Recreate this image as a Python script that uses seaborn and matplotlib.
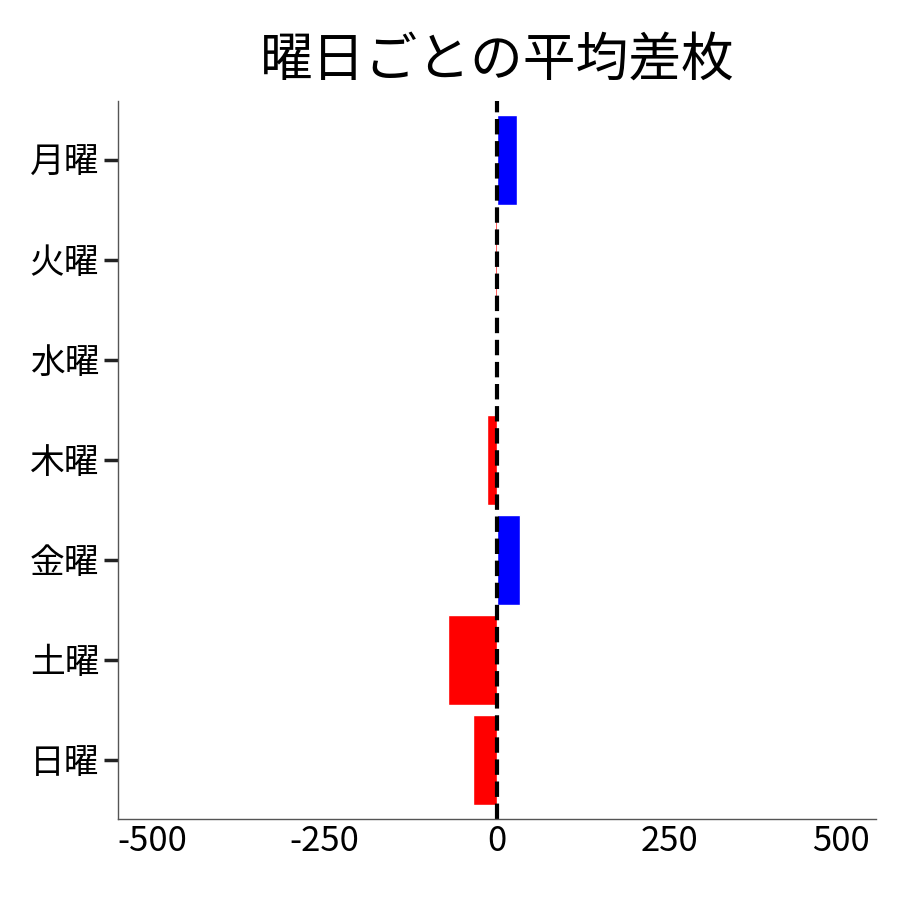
import numpy as np
import pandas as pd
import matplotlib
matplotlib.use('Agg')
import matplotlib.pyplot as plt
import seaborn as sns

days = ['月曜', '火曜', '水曜', '木曜', '金曜', '土曜', '日曜']
diff = [29, -2, 0, -14, 33, -71, -35]

sns.set_theme(style='white')
plt.rcParams['font.family'] = ['Noto Sans CJK JP', 'DejaVu Sans']

df = pd.DataFrame({'曜日': days, '差枚': diff})
colors = ['blue' if v > 0 else 'red' for v in diff]

fig = plt.figure(figsize=(9, 9), dpi=100)
ax = fig.add_axes([0.131, 0.09, 0.842, 0.798])
sns.barplot(data=df, x='差枚', y='曜日', hue='曜日', palette=colors,
            legend=False, width=0.9, saturation=1, ax=ax)
ax.axvline(0, color='black', linestyle='--', linewidth=3)

ax.set_xlim(-550, 550)
ax.set_ylim(6.59, -0.59)
ax.set_xticks([-500, -250, 0, 250, 500])
ax.set_xticklabels(['-500', '-250', '0', '250', '500'])
ax.set_xlabel('')
ax.set_ylabel('')
ax.set_title('曜日ごとの平均差枚', fontsize=38, pad=18, color='black')
ax.tick_params(axis='y', labelsize=25, length=10, width=2.5, color='#222222',
               left=True, labelcolor='black')
ax.tick_params(axis='x', labelsize=25, length=0, labelcolor='black')
for s in ['top', 'right']:
    ax.spines[s].set_visible(False)
for s in ['left', 'bottom']:
    ax.spines[s].set_color('#555555')
    ax.spines[s].set_linewidth(1)

fig.savefig('out.png', dpi=100)
